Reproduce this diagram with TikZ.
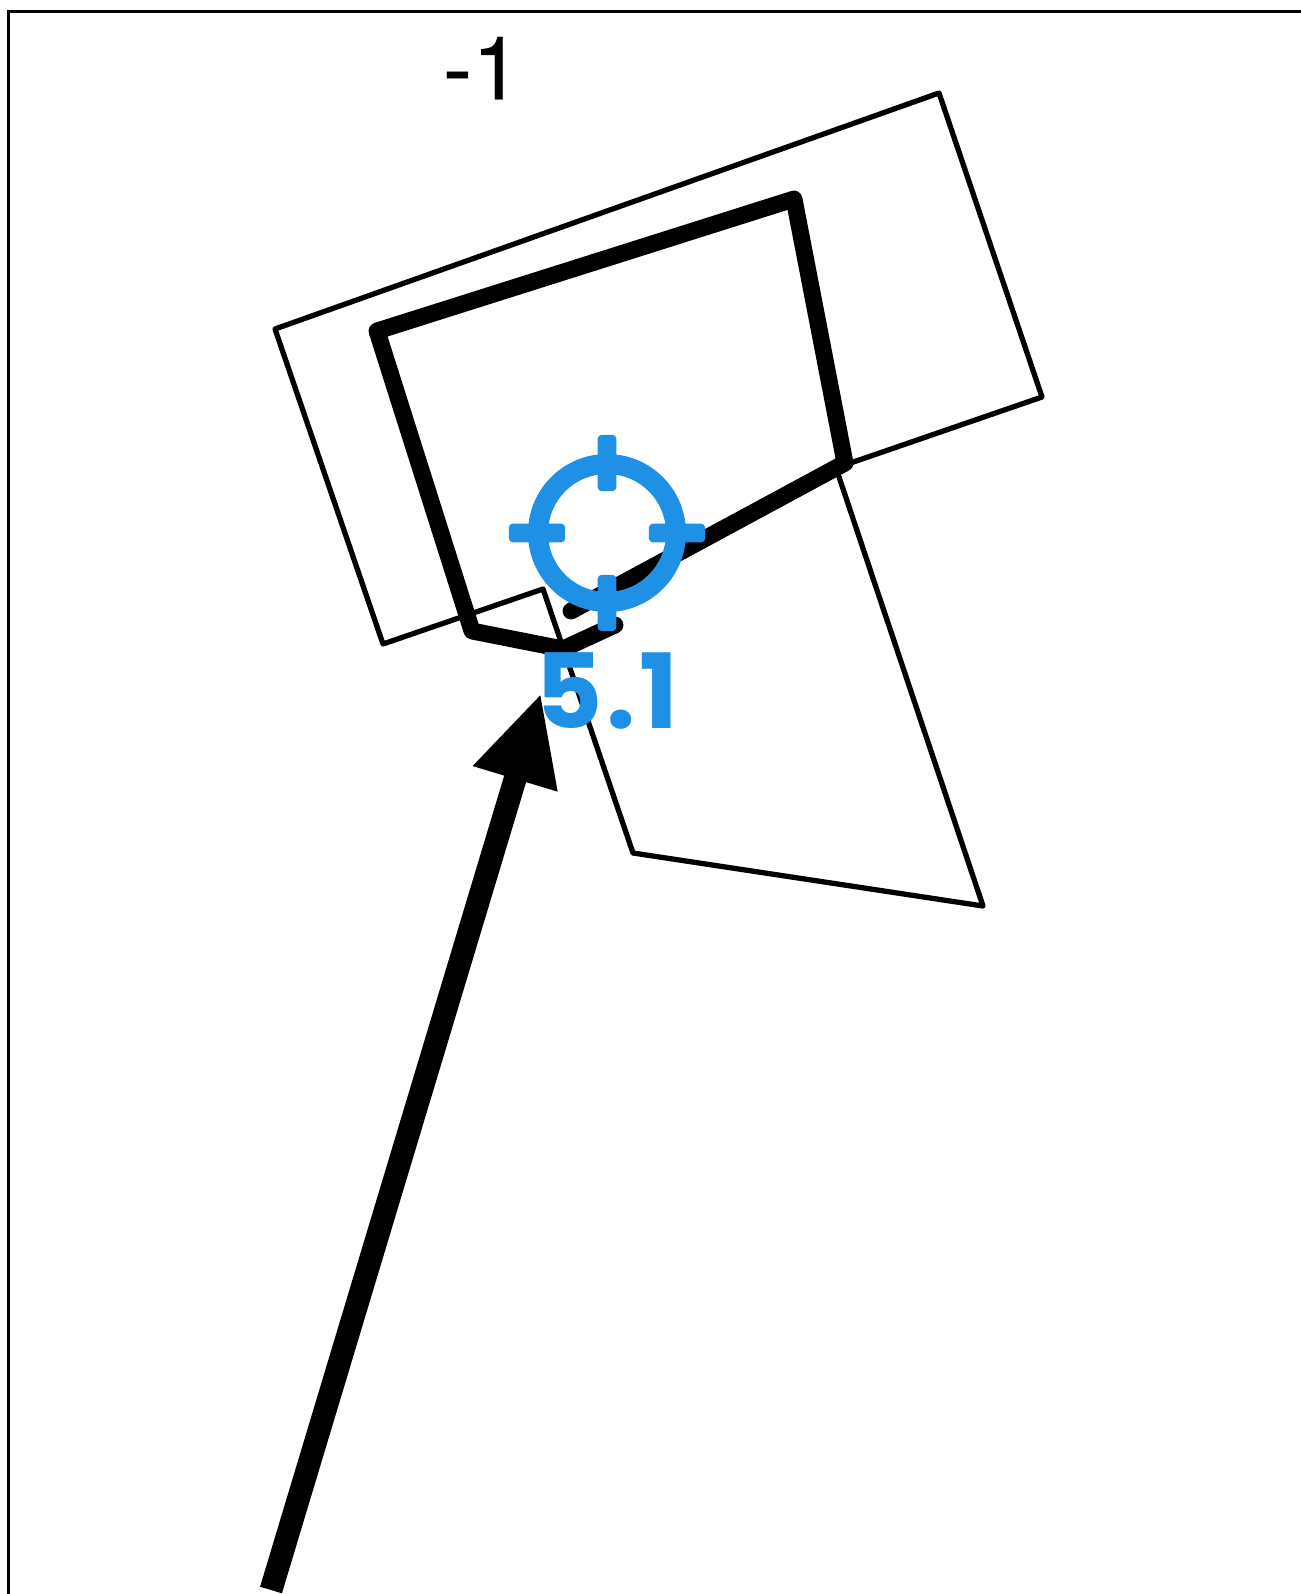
\documentclass[tikz,border=0pt]{standalone}
\usetikzlibrary{arrows.meta, calc}
\usepackage{fontspec}
\setmainfont[FakeBold=0.3]{TeX Gyre Heros}
\newfontfamily\valuefont[LetterSpace=4]{Poppins}
\definecolor{targetblue}{RGB}{30, 144, 229}

\begin{document}
\begin{tikzpicture}[
    x=0.01cm, y=-0.01cm,
    thinline/.style={line width=1.5pt, line join=round},
    thickline/.style={line width=4.8pt, line join=round, line cap=round},
    arr/.style={-{Triangle[length=25.5pt, width=23.2pt]}, line width=6.5pt},
    tick/.style={fill=targetblue, rounded corners=1.1pt, inner sep=0pt, minimum width=16pt, minimum height=5.3pt},
    lbl/.style={inner sep=0pt, anchor=base}
  ]
    \useasboundingbox (0,0) rectangle (1301,1594);
    \draw[line width=0.6pt] (8.5,1594) -- (8.5,11.5) -- (1301,11.5);

    \node[lbl, font=\fontsize{25}{25}\selectfont] (minus) at (482,99.3) {-1};

    \draw[thinline] (275,329) -- (939,93) -- (1042,397) -- (836,468) -- (983,906) -- (633,853) -- (543,589) -- (383,644) -- cycle;
    \draw[thickline] (571,611) -- (845,463) -- (794,199) -- (377,331) -- (472,631) -- (563,649) -- (615,625);

    % big arrow
    \coordinate (tail) at (271,1590);
    \coordinate (head) at (541,693);
    \draw[arr] (tail) -- (head);

    % target mark
    \coordinate (centre) at (607,533);
    \draw[targetblue, line width=5.7pt] (centre) circle (69);
    \foreach \ang in {0,90,180,270}
      \node[tick, rotate=\ang] (tick\ang) at ($(centre)+(\ang:70)$) {};

    \node[lbl, targetblue, font=\valuefont\bfseries\fontsize{29.5}{29.5}\selectfont] (value) at (607,728) {5.1};
\end{tikzpicture}
\end{document}
